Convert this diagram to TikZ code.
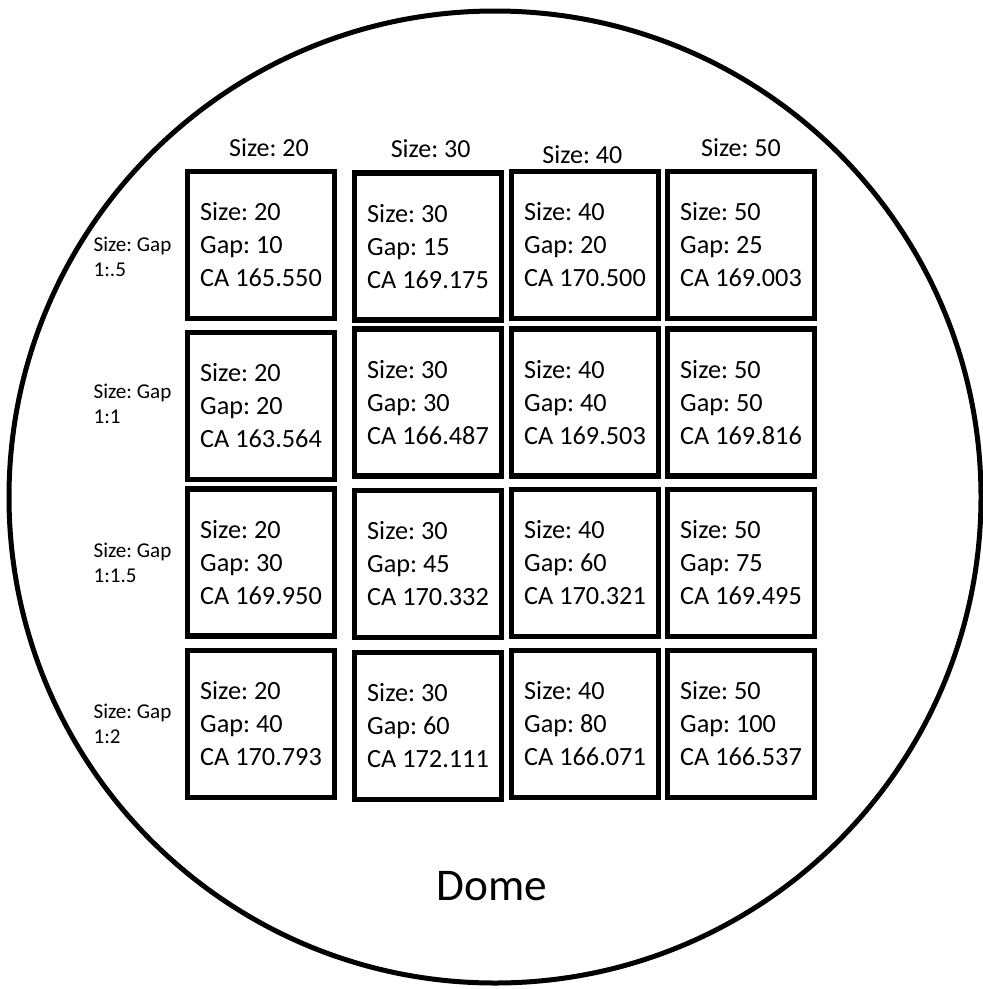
\documentclass[tikz,border=0pt]{standalone}
\usepackage{fontspec}
\setmainfont{Carlito}
\usepackage{tikz}
\usetikzlibrary{positioning}

\begin{document}
\frenchspacing
\begin{tikzpicture}[
    x=0.75pt, y=-0.75pt,
    node distance=9pt,
    cell/.style={rectangle, draw=black, line width=4.1pt, minimum width=110pt, minimum height=110pt, inner sep=0pt, align=left, font=\fontsize{19.7}{24.75}\selectfont},
    colhead/.style={inner sep=0pt, font=\fontsize{19.5}{23}\selectfont},
    rowhead/.style={inner sep=0pt, align=left, font=\fontsize{15.8}{18.75}\selectfont},
    domeline/.style={draw=black, line width=3.75pt}
]
\useasboundingbox (0,0) rectangle (982,989);
\draw [domeline] (495,497) circle [radius=364.5pt];
% row 1: 1:.5
\node (r1c1) [cell] at (261,245) {Size: 20\\Gap: 10\\CA 165.550};
\node (r1c2) [cell] at (428,246.5) {Size: 30\\Gap: 15\\CA 169.175};
\node (r1c3) [cell] at (585,245) {Size: 40\\Gap: 20\\CA 170.500};
\node (r1c4) [cell] at (741,245) {Size: 50\\Gap: 25\\CA 169.003};
% row 2: 1:1
\node (r2c1) [cell] at (261,406) {Size: 20\\Gap: 20\\CA 163.564};
\node (r2c2) [cell] at (428,402.5) {Size: 30\\Gap: 30\\CA 166.487};
\node (r2c3) [cell] at (585,402.5) {Size: 40\\Gap: 40\\CA 169.503};
\node (r2c4) [cell] at (741,402.5) {Size: 50\\Gap: 50\\CA 169.816};
% row 3: 1:1.5
\node (r3c1) [cell] at (261,562.5) {Size: 20\\Gap: 30\\CA 169.950};
\node (r3c2) [cell] at (428,564) {Size: 30\\Gap: 45\\CA 170.332};
\node (r3c3) [cell] at (585,563) {Size: 40\\Gap: 60\\CA 170.321};
\node (r3c4) [cell] at (741,563) {Size: 50\\Gap: 75\\CA 169.495};
% row 4: 1:2
\node (r4c1) [cell] at (261,724) {Size: 20\\Gap: 40\\CA 170.793};
\node (r4c2) [cell] at (428,726) {Size: 30\\Gap: 60\\CA 172.111};
\node (r4c3) [cell] at (585,724) {Size: 40\\Gap: 80\\CA 166.071};
\node (r4c4) [cell] at (741,724) {Size: 50\\Gap: 100\\CA 166.537};
% column heads
\node (head20) [colhead, above=9pt of r1c1, xshift=6pt] {Size: 20};
\node (head30) [colhead, above=9pt of r1c2, xshift=2pt] {Size: 30};
\node (head40) [colhead, above=3.5pt of r1c3, xshift=-2pt] {Size: 40};
\node (head50) [colhead, above=9pt of r1c4] {Size: 50};
% row heads
\node (ratio1) [rowhead, left=10pt of r1c1, yshift=-9pt] {Size: Gap\\1:.5};
\node (ratio2) [rowhead, left=10pt of r2c1, yshift=2pt] {Size: Gap\\1:1};
\node (ratio3) [rowhead, left=10pt of r3c1] {Size: Gap\\1:1.5};
\node (ratio4) [rowhead, left=10pt of r4c1] {Size: Gap\\1:2};
\node (domelabel) [font=\fontsize{34}{40}\selectfont] at (492,886) {Dome};
\end{tikzpicture}
\end{document}
